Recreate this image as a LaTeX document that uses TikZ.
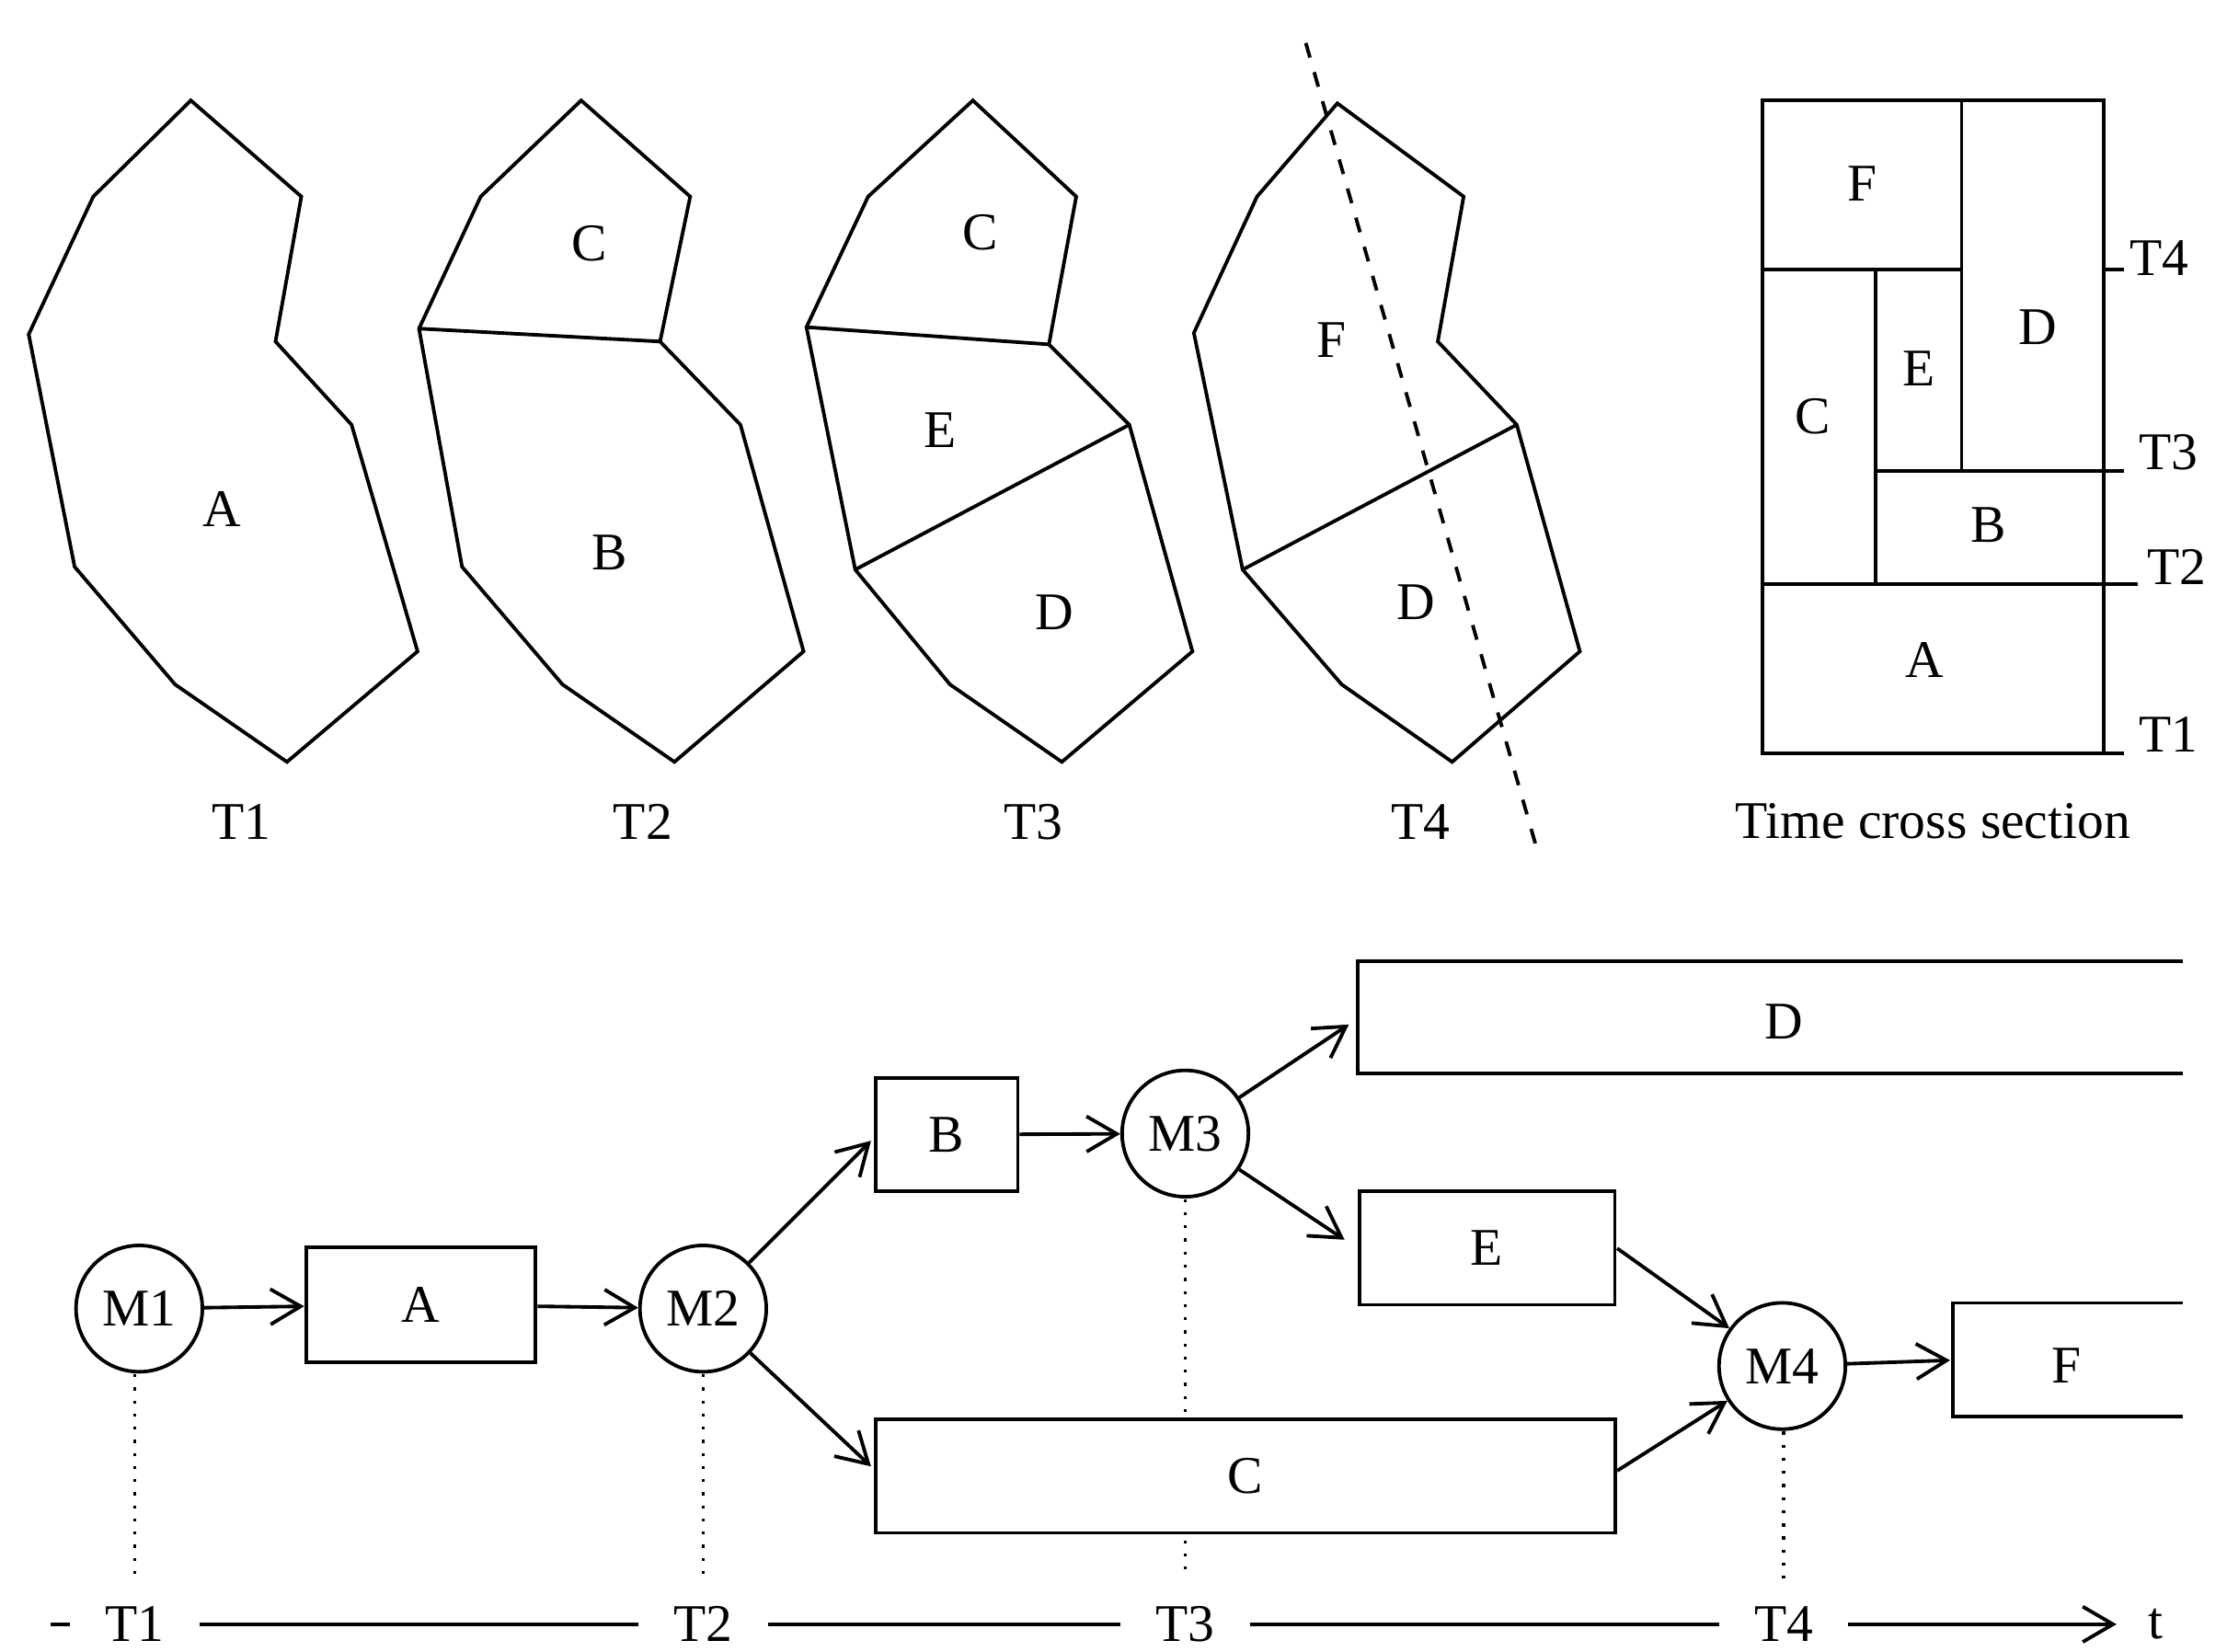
\documentclass[tikz,border=0pt]{standalone}
\usepackage{fontspec}
\setmainfont{Liberation Serif}
\usetikzlibrary{arrows.meta}
\begin{document}
\begin{tikzpicture}[x=0.01cm,y=-0.01cm,line width=0.7pt,
  lab/.style={font=\fontsize{10.5}{13}\selectfont,inner sep=1pt},
  circ/.style={circle,draw,fill=white,minimum size=0.88cm,inner sep=0pt,font=\fontsize{10.5}{13}\selectfont},
  box/.style={draw,fill=white,font=\fontsize{10.5}{13}\selectfont,anchor=north west,inner sep=0pt},
  arr/.style={-{Straight Barb[length=6pt,width=7pt]}},
  dot/.style={dotted,line width=0.6pt}]
\useasboundingbox (0,0) rectangle (1552,1151);
% polygons
\draw (133,70)--(210,137)--(192,238)--(245,296)--(291,454)--(200,531)--(122,477)--(52,395)--(20,233)--(65,137)--cycle;
\node[lab] at (155,355) {A}; \node[lab] at (168,573) {T1};
\draw (405,70)--(481,137)--(460,238)--(516,296)--(560,454)--(470,531)--(392,477)--(322,395)--(292,229)--(335,137)--cycle;
\draw (292,229)--(460,238);
\node[lab] at (411,170) {C}; \node[lab] at (425,385) {B}; \node[lab] at (448,573) {T2};
\draw (678,70)--(750,137)--(731,240)--(787,296)--(831,454)--(740,531)--(662,477)--(596,397)--(562,228)--(605,137)--cycle;
\draw (562,228)--(731,240) (596,397)--(787,296);
\node[lab] at (683,162) {C}; \node[lab] at (655,300) {E}; \node[lab] at (735,427) {D}; \node[lab] at (720,573) {T3};
\draw (932,72)--(1020,137)--(1002,238)--(1057,296)--(1101,454)--(1012,531)--(935,477)--(866,397)--(832,232)--(876,137)--cycle;
\draw (866,397)--(1057,296);
\draw[dashed] (910,30)--(1070,588);
\node[lab] at (928,237) {F}; \node[lab] at (987,420) {D}; \node[lab] at (990,573) {T4};
% time cross section
\draw (1228,70) rectangle (1466,525);
\draw (1228,188)--(1367,188) (1367,70)--(1367,328) (1307,328)--(1480,328) (1228,407)--(1490,407) (1307,188)--(1307,407)
  (1466,188)--(1480,188) (1466,525)--(1480,525);
\node[lab] at (1298,128) {F}; \node[lab] at (1337,257) {E}; \node[lab] at (1420,228) {D};
\node[lab] at (1263,290) {C}; \node[lab] at (1386,366) {B}; \node[lab] at (1341,460) {A};
\node[lab] at (1505,180) {T4}; \node[lab] at (1511,315) {T3}; \node[lab] at (1517,395) {T2}; \node[lab] at (1511,512) {T1};
\node[lab] at (1347,572) {Time cross section};
% dotted lines and axis
\draw[dot] (94,912)--(94,1100) (490,912)--(490,1100) (826,790)--(826,1100) (1243,952)--(1243,1100);
\draw[arr] (35,1132)--(1475,1132);
\node[lab,fill=white,inner xsep=7pt] (t1) at (94,1132) {T1};
\node[lab,fill=white,inner xsep=7pt] (t2) at (490,1132) {T2};
\node[lab,fill=white,inner xsep=7pt] (t3) at (826,1132) {T3};
\node[lab,fill=white,inner xsep=7pt] (t4) at (1243,1132) {T4};
\node[lab] (t) at (1502,1132) {t};
% boxes
\node[box,minimum width=1.6cm,minimum height=0.8cm] (A) at (212,868) {A};
\node[box,minimum width=0.99cm,minimum height=0.79cm] (B) at (609,750) {B};
\node[box,minimum width=1.78cm,minimum height=0.79cm] (E) at (946,829) {E};
\node[box,minimum width=5.15cm,minimum height=0.79cm] (C) at (609,988) {C};
\draw (1521,670)--(946,670)--(946,748)--(1521,748);
\node[lab] (D) at (1243,712) {D};
\draw (1521,908)--(1361,908)--(1361,987)--(1521,987);
\node[lab] (F) at (1440,952) {F};
\coordinate (Dl) at (940,714); \coordinate (Fl) at (1359,948);
\coordinate (El) at (937,864); \coordinate (Cl) at (607,1022); \coordinate (Bl) at (607,795);
\coordinate (Er) at (1127,870); \coordinate (Cr) at (1127,1025);
% circles
\node[circ] (M1) at (97,912) {M1};
\node[circ] (M2) at (490,912) {M2};
\node[circ] (M3) at (826,790) {M3};
\node[circ] (M4) at (1242,952) {M4};
% arrows
\draw[arr] (M1)--(A);
\draw[arr] (A)--(M2);
\draw[arr] (M2)--(Bl);
\draw[arr] (M2)--(Cl);
\draw[arr] (B)--(M3);
\draw[arr] (M3)--(Dl);
\draw[arr] (M3)--(El);
\draw[arr] (Er)--(M4);
\draw[arr] (Cr)--(M4);
\draw[arr] (M4)--(Fl);
\end{tikzpicture}
\end{document}
